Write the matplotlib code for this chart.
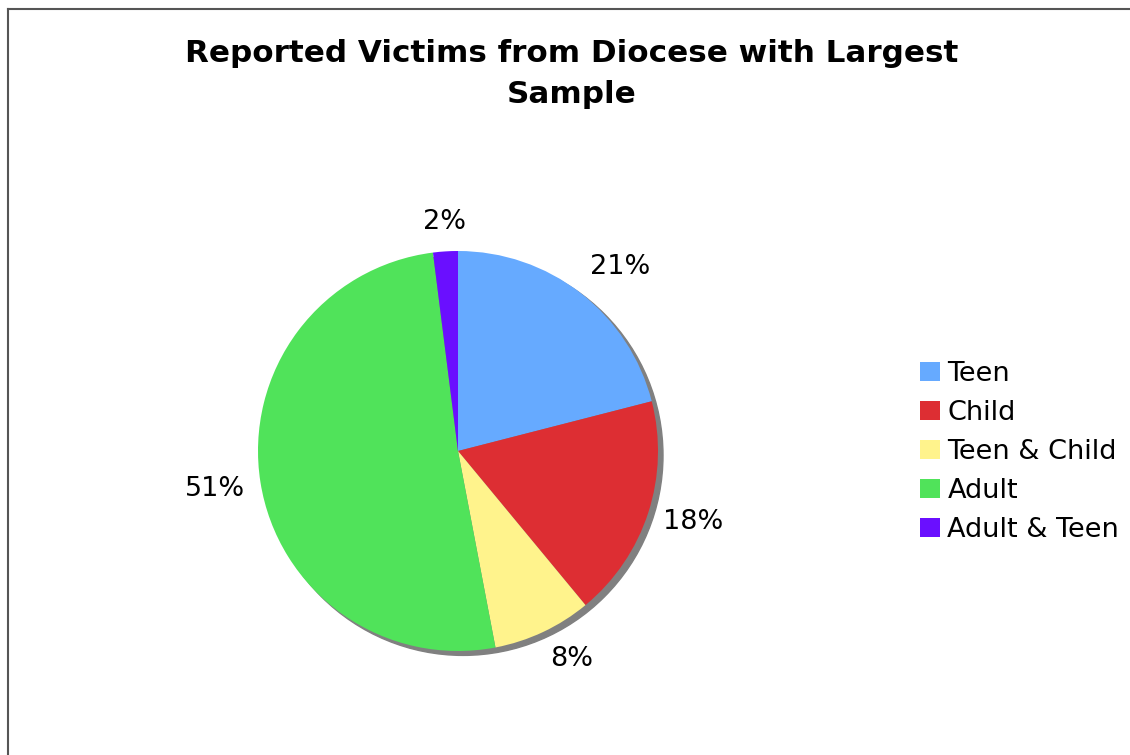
import matplotlib
matplotlib.use("Agg")
import numpy as np
import matplotlib.pyplot as plt
from matplotlib.patches import Circle, Patch
from matplotlib.lines import Line2D

categories = ["Teen", "Child", "Teen & Child", "Adult", "Adult & Teen"]
values = [21, 18, 8, 51, 2]
colors = ["#66AAFF", "#DD2E33", "#FFF38C", "#50E35A", "#6A0FFF"]
title = "Reported Victims from Diocese with Largest\nSample"

W, H = 1130, 755
fig = plt.figure(figsize=(W / 100, H / 100), dpi=100)
fig.patch.set_facecolor("white")

# frame lines (top and left)
fig.add_artist(Line2D([8 / W, 1], [1 - 9 / H, 1 - 9 / H], transform=fig.transFigure,
                      color="#555555", lw=1.5))
fig.add_artist(Line2D([8 / W, 8 / W], [0, 1 - 9 / H], transform=fig.transFigure,
                      color="#555555", lw=1.5))

cx, cy, half = 458, 451, 250
ax = fig.add_axes([(cx - half) / W, (H - cy - half) / H, 2 * half / W, 2 * half / H])

# shadow
ax.add_patch(Circle((0.025, -0.022), 1.0, color="#808080", zorder=0))

wedges, _ = ax.pie(values, colors=colors, startangle=90, counterclock=False, radius=1.0,
                   wedgeprops=dict(linewidth=0), frame=True)
for w in wedges:
    w.set_zorder(2)
ax.set_xlim(-1.25, 1.25)
ax.set_ylim(-1.25, 1.25)
ax.set_aspect("equal")
ax.axis("off")

total = sum(values)
for w, v in zip(wedges, values):
    ang = np.deg2rad((w.theta1 + w.theta2) / 2)
    c, s = np.cos(ang), np.sin(ang)
    ha = "left" if c > 0.4 else ("right" if c < -0.4 else "center")
    va = "bottom" if s > 0.4 else ("top" if s < -0.4 else "center")
    ax.text(1.08 * c, 1.08 * s - (0.02 if va == "center" else 0),
            f"{100 * v / total:.0f}%", ha=ha, va=va, fontsize=19.5, color="black")

fig.text(572 / W, 1 - 74 / H, title, ha="center", va="center", fontsize=22.3,
         fontweight="bold", linespacing=1.55)

handles = [Patch(facecolor=c, edgecolor="none") for c in colors]
fig.legend(handles, categories, loc="center left", bbox_to_anchor=(920 / W, 1 - 452 / H),
           frameon=False, fontsize=19.5, handlelength=0.74, handleheight=0.74,
           handletextpad=0.27, labelspacing=0.48, borderaxespad=0, borderpad=0)

fig.savefig("out.png", dpi=100, facecolor="white")
